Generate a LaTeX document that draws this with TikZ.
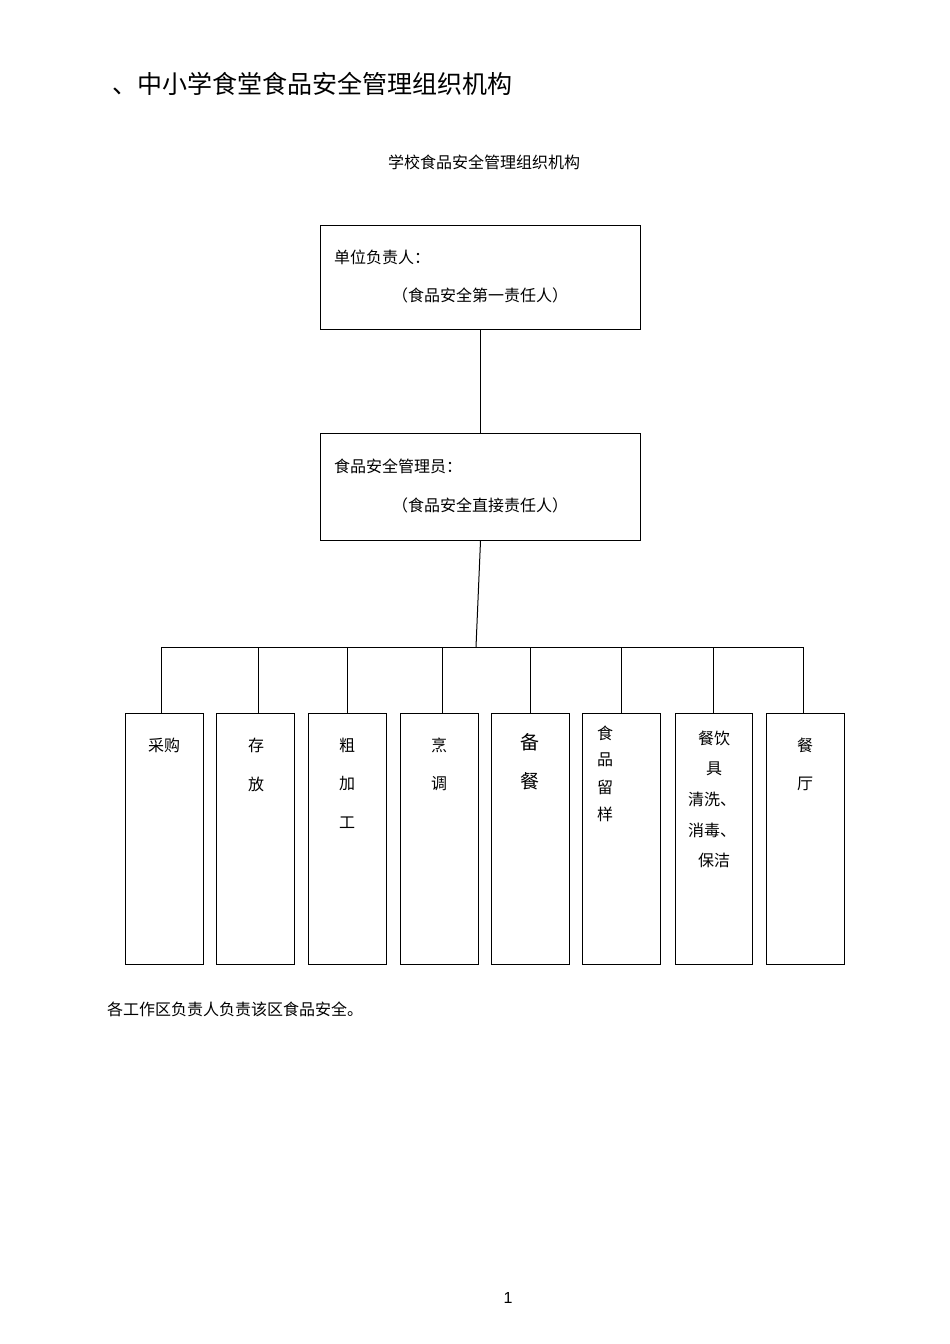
\documentclass[tikz,border=0pt]{standalone}
\usepackage{fontspec}
\setmainfont{Noto Sans CJK SC}
\newfontfamily\numfont{Liberation Sans}
\begin{document}
\begin{tikzpicture}[x=1pt,y=-1pt,
  bx/.style={draw,line width=1pt,anchor=north west,inner sep=0pt},
  ln/.style={line width=1pt},
  t/.style={font=\fontsize{16}{16}\selectfont,inner sep=0pt}]
\useasboundingbox[fill=white] (0,0) rectangle (950,1344);
\node[anchor=west,font=\fontsize{25}{25}\selectfont,inner sep=0pt] (title) at (112,84) {、中小学食堂食品安全管理组织机构};
\node[font=\fontsize{16}{16}\selectfont,inner sep=0pt] (sub) at (484,162) {学校食品安全管理组织机构};
\node[bx,minimum width=320pt,minimum height=104pt] (a) at (320,225) {};
\node[t,anchor=west] (a1) at (334,257) {单位负责人：};
\node[t] (a2) at (480,295) {（食品安全第一责任人）};
\node[bx,minimum width=320pt,minimum height=107pt] (b) at (320,433) {};
\node[t,anchor=west] (b1) at (334,466) {食品安全管理员：};
\node[t] (b2) at (480,505) {（食品安全直接责任人）};
\draw[ln] (a.south) -- (b.north);
\coordinate (h) at (476,647);
\draw[ln] (b.south) -- (h);
\draw[ln] (161,647) -- (803,647);
\foreach \n/\xl/\xr/\xc in {c1/125/203/161,c2/216/294/258,c3/308/386/347,c4/400/478/442,c5/491/569/530,c6/582/660/621,c7/675/752/713,c8/766/844/803}{
  \node[bx,minimum width={\xr-\xl},minimum height=251pt] (\n) at (\xl,713) {};
  \draw[ln] (\xc,647) -- (\xc,713);
}
\node[t] at (164,745) {采购};
\node[t] at (256,745) {存}; \node[t] at (256,784) {放};
\node[t] at (347,745) {粗}; \node[t] at (347,784) {加}; \node[t] at (347,823) {工};
\node[t] at (439,745) {烹}; \node[t] at (439,784) {调};
\node[t,font=\fontsize{19}{19}\selectfont] at (530,742) {备}; \node[t,font=\fontsize{19}{19}\selectfont] at (530,781) {餐};
\node[t] at (605,733) {食}; \node[t] at (605,760) {品}; \node[t] at (605,787) {留}; \node[t] at (605,814) {样};
\node[t] at (714,738) {餐饮}; \node[t] at (714,769) {具}; \node[t] at (712,799) {清洗、}; \node[t] at (712,830) {消毒、}; \node[t] at (714,860) {保洁};
\node[t] at (805,745) {餐}; \node[t] at (805,784) {厅};
\node[t,anchor=west] (foot) at (107,1009) {各工作区负责人负责该区食品安全。};
\node[font=\numfont\fontsize{16}{16}\selectfont,inner sep=0pt] (pg) at (508,1298) {1};
\end{tikzpicture}
\end{document}
